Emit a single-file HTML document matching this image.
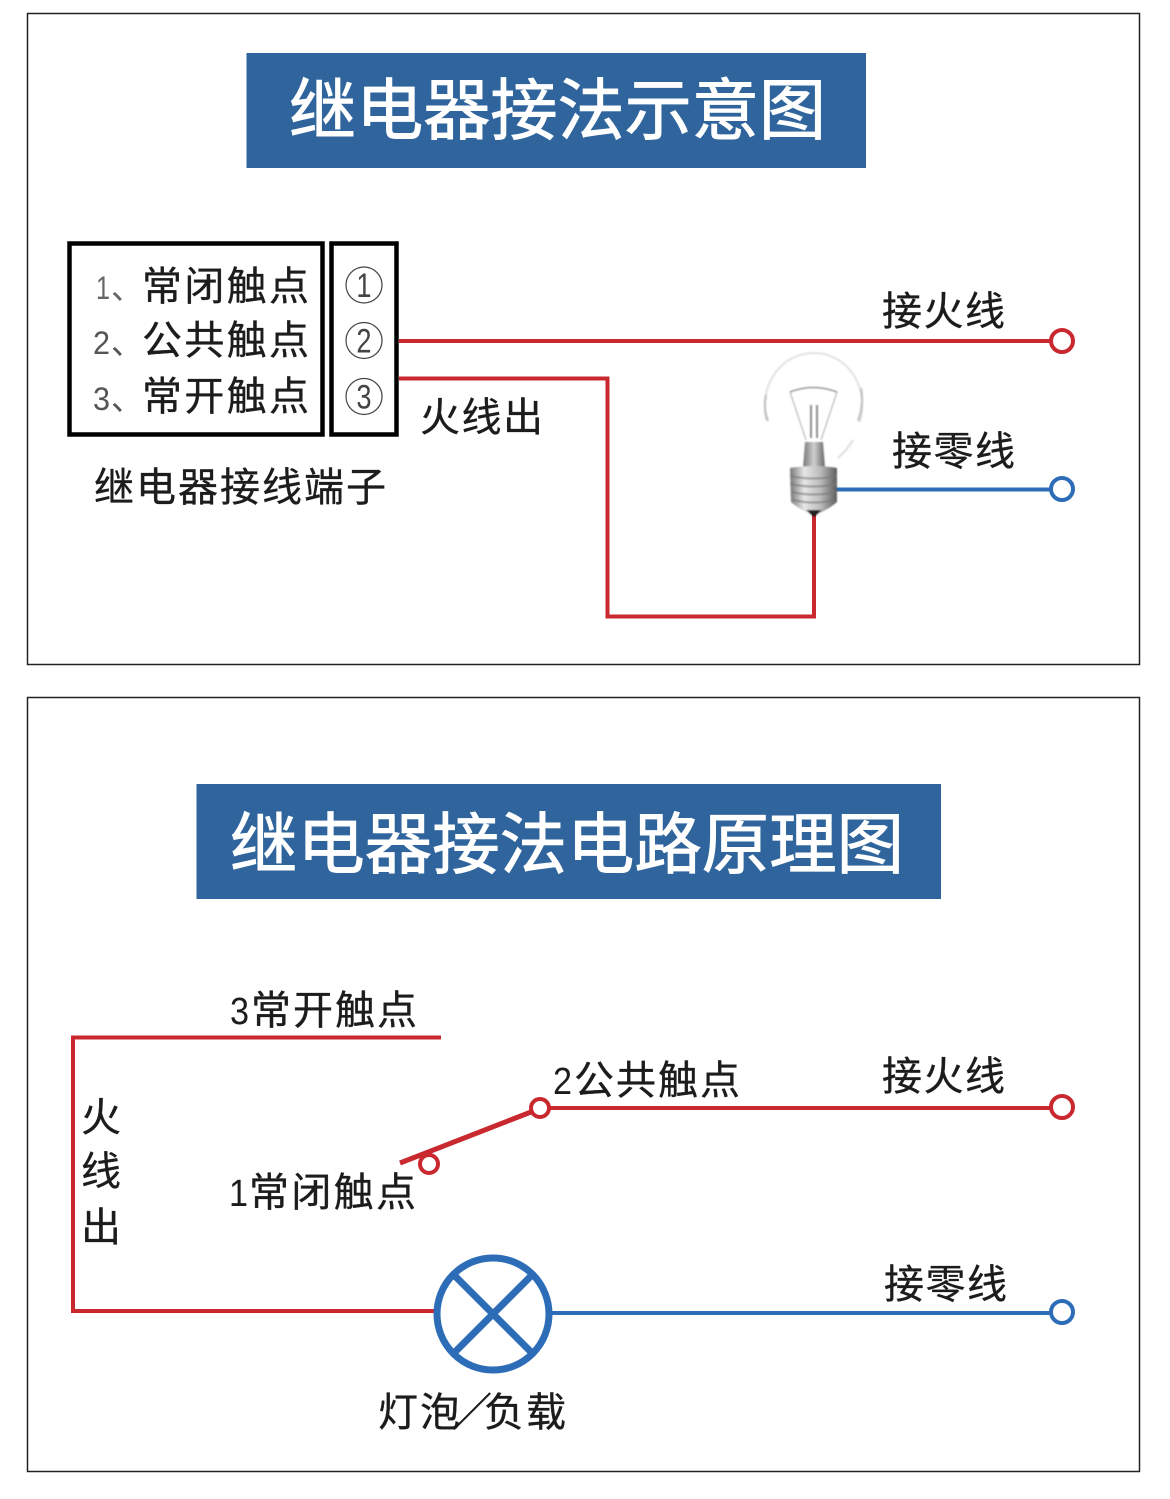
<!DOCTYPE html>
<html lang="zh"><head><meta charset="utf-8"><style>
html,body{margin:0;padding:0;background:#fff;width:1170px;height:1499px;overflow:hidden}
svg{display:block}
text{font-family:"Liberation Sans","Noto Sans CJK SC",sans-serif;fill:#1c1c1c}
.lb text{stroke:#1c1c1c;stroke-width:.35px}
</style></head><body>
<svg width="1170" height="1499" viewBox="0 0 1170 1499" xmlns="http://www.w3.org/2000/svg">
<defs>
<linearGradient id="base" x1="0" x2="1" y1="0" y2="0"><stop offset="0" stop-color="#777"/><stop offset=".3" stop-color="#e6e6e6"/><stop offset=".65" stop-color="#bbb"/><stop offset="1" stop-color="#5c5c5c"/></linearGradient>
<linearGradient id="neck" x1="0" x2="1" y1="0" y2="0"><stop offset="0" stop-color="#777"/><stop offset=".5" stop-color="#cfcfcf"/><stop offset="1" stop-color="#666"/></linearGradient>
<filter id="soft" x="-10%" y="-10%" width="120%" height="120%"><feGaussianBlur stdDeviation=".7"/></filter>
</defs>
<rect width="1170" height="1499" fill="#fff"/>
<rect x="27.5" y="13.5" width="1112" height="651" fill="none" stroke="#222" stroke-width="1.5"/>
<rect x="27.5" y="697.5" width="1112" height="774" fill="none" stroke="#222" stroke-width="1.5"/>

<rect x="246.500" y="53" width="619.500" height="115" fill="#2f659c"/>
<text x="289" y="134" font-size="67" textLength="537" lengthAdjust="spacingAndGlyphs" style="fill:#fff;stroke:#fff;stroke-width:.9px">继电器接法示意图</text>
<rect x="196.500" y="784" width="744.500" height="115" fill="#2f659c"/>
<text x="230" y="868" font-size="67" textLength="674" lengthAdjust="spacingAndGlyphs" style="fill:#fff;stroke:#fff;stroke-width:.9px">继电器接法电路原理图</text>

<rect x="69.500" y="243.500" width="253" height="191" fill="none" stroke="#000" stroke-width="4.500"/>
<rect x="331.500" y="243.500" width="65" height="191" fill="none" stroke="#000" stroke-width="4.500"/>
<g font-size="40" class="lb">
<text x="142" y="300" textLength="167">常闭触点</text>
<text x="142" y="354" textLength="167">公共触点</text>
<text x="142" y="410" textLength="167">常开触点</text>
<text x="94" y="501" textLength="292">继电器接线端子</text>
<text x="420" y="431" textLength="123">火线出</text>
<text x="882" y="325" textLength="123">接火线</text>
<text x="892" y="465" textLength="123">接零线</text>
<text x="251" y="1024" textLength="166">常开触点</text>
<text x="574" y="1094" textLength="166">公共触点</text>
<text x="882" y="1090" textLength="123">接火线</text>
<text x="249" y="1206" textLength="167">常闭触点</text>
<text x="884" y="1298" textLength="123">接零线</text>
<text x="378" y="1426" textLength="82">灯泡</text>
<text x="452" y="1426">／</text>
<text x="484" y="1426" textLength="82">负载</text>
<text x="81" y="1131">火</text>
<text x="81" y="1185">线</text>
<text x="81" y="1241">出</text>
</g>
<g font-size="38">
<text x="0" y="0" transform="translate(230 1024) scale(.9 1)">3</text>
<text x="0" y="0" transform="translate(553 1094) scale(.9 1)">2</text>
<text x="0" y="0" transform="translate(229 1206) scale(.9 1)">1</text>
</g>
<g font-size="32">
<text x="96" y="299" textLength="14" lengthAdjust="spacingAndGlyphs" style="fill:#666">1</text>
<text x="93" y="354" textLength="17" lengthAdjust="spacingAndGlyphs" style="fill:#555">2</text>
<text x="93" y="410" textLength="17" lengthAdjust="spacingAndGlyphs" style="fill:#555">3</text>
<text x="111" y="299" style="fill:#666">、</text>
<text x="111" y="354" style="fill:#555">、</text>
<text x="111" y="410" style="fill:#555">、</text>
</g>
<g fill="none" stroke="#444" stroke-width="1.200">
<circle cx="364" cy="285" r="18"/><circle cx="364" cy="340.500" r="18"/><circle cx="364" cy="396.500" r="18"/>
</g>
<g font-size="34" text-anchor="middle">
<text x="0" y="0" transform="translate(364 297) scale(.8 1)" style="fill:#444">1</text>
<text x="0" y="0" transform="translate(364 352.500) scale(.8 1)" style="fill:#444">2</text>
<text x="0" y="0" transform="translate(364 408.500) scale(.8 1)" style="fill:#444">3</text>
</g>

<g fill="none" stroke="#c8282e" stroke-width="4">
<path d="M399 341H1050"/>
<path d="M399 378.500H607.500V616.500H814V510"/>
<circle cx="1062" cy="341" r="11"/>
<path d="M71 1037.500H441M73 1037.500V1311H435"/>
<path d="M549 1108H1050"/>
<circle cx="1062" cy="1107" r="11"/>
<path d="M400 1163L531 1112" stroke-width="5"/>
<circle cx="540" cy="1108" r="9" fill="#fff"/>
<circle cx="429" cy="1164" r="9" fill="#fff"/>
</g>
<g fill="none" stroke="#2d6db8" stroke-width="4">
<path d="M830 489.500H1050"/>
<circle cx="1062" cy="489" r="11"/>
<path d="M551 1313H1050"/>
<circle cx="1062" cy="1312" r="11"/>
<circle cx="493" cy="1314" r="56" stroke-width="7"/>
<path d="M454 1275L532 1353M532 1275L454 1353" stroke-width="7"/>
</g>

<!-- bulb -->
<g fill="none" filter="url(#soft)">
<path d="M766 420C759 383 782 353 814 353C846 353 870 385 860 422" stroke="#e2e2e2" stroke-width="2"/>
<path d="M766 395Q763 408 768 421" stroke="#bdbdbd" stroke-width="2"/>
<path d="M861 388Q864 405 858 421" stroke="#bdbdbd" stroke-width="2"/>
<path d="M853 440Q847 450 838 458" stroke="#ddd" stroke-width="2"/>
<path d="M790 392Q813 383 837 392" stroke="#999" stroke-width="1.500"/>
<path d="M790 392L806 440M837 392L821 440" stroke="#aaa" stroke-width="1"/>
<path d="M811 405V438M817 405V438" stroke="#8c8c8c" stroke-width="2"/>
</g>
<g filter="url(#soft)">
<path d="M805 442H823L825 468H803Z" fill="url(#neck)"/>
<path d="M790 468Q814 464 837 468V502Q830 508 822 512L814 515L806 512Q798 508 791 502Z" fill="url(#base)"/>
<path d="M790 476Q814 481 837 476M790 484Q814 489 837 484M791 492Q814 497 836 492M793 500Q814 505 834 500" stroke="#777" stroke-width="1.800" fill="none" opacity=".75"/>
<path d="M806 510H822L814 517Z" fill="#222"/>
</g>
</svg>
</body></html>
